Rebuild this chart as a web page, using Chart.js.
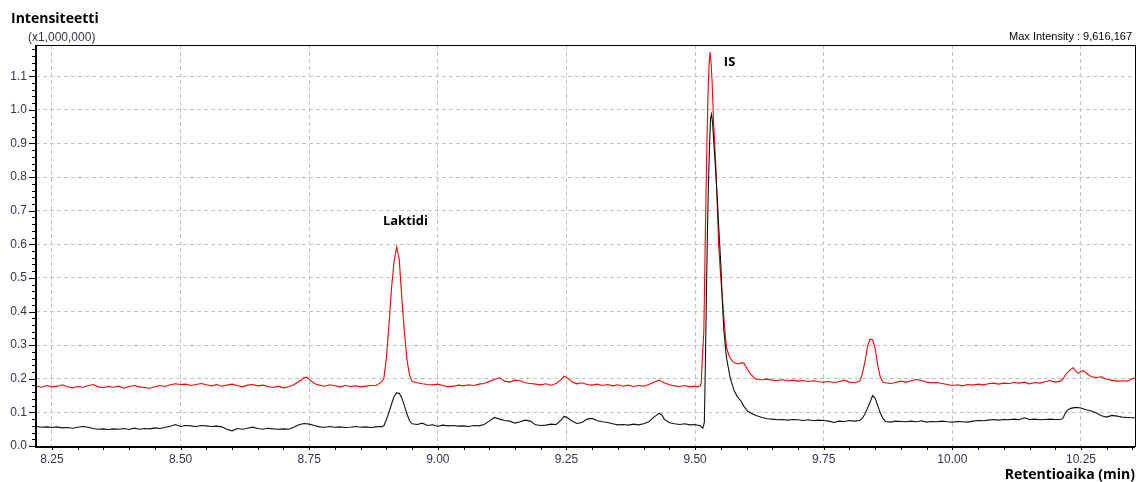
<!DOCTYPE html>
<html>
<head>
<meta charset="utf-8">
<title>Kromatogrammi</title>
<script src="https://cdn.jsdelivr.net/npm/chart.js@4.4.1/dist/chart.umd.min.js"></script>
<style>
  html, body { margin: 0; padding: 0; background: #fff; }
  canvas { display: block; }
</style>
</head>
<body>
<canvas id="chromatogram" width="1137" height="482"></canvas>
<script>
// Retention time (min), intensity (x1,000,000)
const blackTrace = [
  [8.22, 0.058], [8.23, 0.056], [8.24, 0.057], [8.25, 0.055], [8.26, 0.057], [8.27, 0.054], [8.28, 0.055], [8.29, 0.053],
  [8.30, 0.056], [8.31, 0.058], [8.32, 0.056], [8.33, 0.052], [8.34, 0.050], [8.35, 0.051], [8.36, 0.049], [8.37, 0.051],
  [8.38, 0.050], [8.39, 0.052], [8.40, 0.049], [8.41, 0.053], [8.42, 0.050], [8.43, 0.052], [8.44, 0.051], [8.45, 0.054],
  [8.46, 0.052], [8.47, 0.056], [8.48, 0.059], [8.49, 0.064], [8.50, 0.058], [8.51, 0.061], [8.52, 0.060], [8.53, 0.058],
  [8.54, 0.061], [8.55, 0.060], [8.56, 0.058], [8.57, 0.059], [8.58, 0.057], [8.59, 0.050], [8.60, 0.045], [8.61, 0.052],
  [8.62, 0.050], [8.63, 0.053], [8.64, 0.056], [8.65, 0.052], [8.66, 0.050], [8.67, 0.053], [8.68, 0.051], [8.69, 0.050],
  [8.70, 0.051], [8.71, 0.050], [8.72, 0.056], [8.73, 0.063], [8.74, 0.067], [8.75, 0.065], [8.76, 0.061], [8.77, 0.057],
  [8.78, 0.056], [8.79, 0.058], [8.80, 0.056], [8.81, 0.057], [8.82, 0.055], [8.83, 0.056], [8.84, 0.058], [8.85, 0.056],
  [8.86, 0.057], [8.87, 0.055], [8.88, 0.057], [8.885, 0.058], [8.89, 0.057], [8.895, 0.060], [8.90, 0.078], [8.905, 0.100],
  [8.91, 0.125], [8.915, 0.148], [8.92, 0.158], [8.925, 0.157], [8.93, 0.143], [8.935, 0.120], [8.94, 0.095], [8.945, 0.075],
  [8.95, 0.066], [8.96, 0.064], [8.97, 0.068], [8.98, 0.061], [8.99, 0.063], [9.00, 0.059], [9.01, 0.062], [9.02, 0.060],
  [9.03, 0.061], [9.04, 0.059], [9.05, 0.060], [9.06, 0.058], [9.07, 0.061], [9.08, 0.060], [9.09, 0.064], [9.10, 0.074],
  [9.11, 0.085], [9.12, 0.080], [9.13, 0.076], [9.14, 0.074], [9.15, 0.068], [9.16, 0.072], [9.17, 0.077], [9.18, 0.074],
  [9.19, 0.063], [9.20, 0.061], [9.21, 0.062], [9.22, 0.065], [9.23, 0.064], [9.24, 0.078], [9.245, 0.088], [9.25, 0.086],
  [9.26, 0.075], [9.27, 0.067], [9.28, 0.070], [9.29, 0.080], [9.30, 0.082], [9.31, 0.075], [9.32, 0.072], [9.33, 0.070],
  [9.34, 0.066], [9.35, 0.063], [9.36, 0.064], [9.37, 0.062], [9.38, 0.065], [9.39, 0.063], [9.40, 0.066], [9.41, 0.072],
  [9.42, 0.086], [9.43, 0.097], [9.435, 0.094], [9.44, 0.080], [9.45, 0.069], [9.46, 0.066], [9.47, 0.064], [9.48, 0.066],
  [9.49, 0.063], [9.50, 0.064], [9.505, 0.062], [9.51, 0.060], [9.515, 0.053], [9.518, 0.070], [9.520, 0.244], [9.522, 0.450],
  [9.524, 0.640], [9.526, 0.780], [9.528, 0.889], [9.530, 0.975], [9.532, 0.987], [9.534, 0.960], [9.537, 0.889], [9.540, 0.820],
  [9.543, 0.740], [9.546, 0.650], [9.550, 0.540], [9.553, 0.430], [9.556, 0.343], [9.561, 0.263], [9.568, 0.204], [9.576, 0.164],
  [9.582, 0.147], [9.589, 0.134], [9.595, 0.118], [9.602, 0.104], [9.608, 0.098], [9.614, 0.094], [9.62, 0.090], [9.63, 0.085],
  [9.64, 0.081], [9.65, 0.080], [9.66, 0.078], [9.67, 0.079], [9.68, 0.077], [9.69, 0.079], [9.70, 0.078], [9.71, 0.076],
  [9.72, 0.078], [9.73, 0.075], [9.74, 0.077], [9.75, 0.076], [9.76, 0.074], [9.77, 0.070], [9.78, 0.074], [9.79, 0.073],
  [9.80, 0.076], [9.81, 0.074], [9.82, 0.076], [9.825, 0.082], [9.83, 0.095], [9.835, 0.112], [9.84, 0.130], [9.845, 0.150],
  [9.85, 0.142], [9.855, 0.120], [9.86, 0.098], [9.865, 0.082], [9.87, 0.073], [9.88, 0.071], [9.89, 0.074], [9.90, 0.073],
  [9.91, 0.072], [9.92, 0.074], [9.93, 0.072], [9.94, 0.075], [9.95, 0.071], [9.96, 0.073], [9.97, 0.072], [9.98, 0.074],
  [9.99, 0.072], [10.00, 0.071], [10.01, 0.073], [10.02, 0.072], [10.03, 0.071], [10.04, 0.074], [10.05, 0.076], [10.06, 0.075],
  [10.07, 0.077], [10.08, 0.079], [10.09, 0.077], [10.10, 0.079], [10.11, 0.078], [10.12, 0.080], [10.13, 0.078], [10.14, 0.084],
  [10.15, 0.079], [10.16, 0.080], [10.17, 0.078], [10.18, 0.079], [10.19, 0.080], [10.20, 0.079], [10.21, 0.079], [10.215, 0.082],
  [10.22, 0.100], [10.225, 0.108], [10.23, 0.112], [10.24, 0.115], [10.25, 0.113], [10.26, 0.108], [10.27, 0.104], [10.28, 0.098],
  [10.29, 0.090], [10.30, 0.086], [10.31, 0.091], [10.32, 0.089], [10.33, 0.086], [10.34, 0.085], [10.35, 0.084], [10.356, 0.084]
];

const redTrace = [
  [8.22, 0.178], [8.23, 0.175], [8.24, 0.180], [8.25, 0.176], [8.26, 0.178], [8.27, 0.182], [8.28, 0.176], [8.29, 0.173],
  [8.30, 0.177], [8.31, 0.175], [8.32, 0.179], [8.33, 0.183], [8.34, 0.176], [8.35, 0.174], [8.36, 0.177], [8.37, 0.175],
  [8.38, 0.178], [8.39, 0.172], [8.40, 0.177], [8.41, 0.180], [8.42, 0.176], [8.43, 0.174], [8.44, 0.172], [8.45, 0.176],
  [8.46, 0.180], [8.47, 0.177], [8.48, 0.182], [8.49, 0.185], [8.50, 0.183], [8.51, 0.184], [8.52, 0.180], [8.53, 0.183],
  [8.54, 0.186], [8.55, 0.182], [8.56, 0.179], [8.57, 0.183], [8.58, 0.178], [8.59, 0.181], [8.60, 0.184], [8.61, 0.180],
  [8.62, 0.176], [8.63, 0.181], [8.64, 0.183], [8.65, 0.179], [8.66, 0.181], [8.67, 0.177], [8.68, 0.174], [8.69, 0.178],
  [8.70, 0.173], [8.71, 0.176], [8.72, 0.182], [8.73, 0.192], [8.74, 0.203], [8.745, 0.205], [8.75, 0.198], [8.76, 0.186],
  [8.77, 0.181], [8.78, 0.178], [8.79, 0.182], [8.80, 0.179], [8.81, 0.176], [8.82, 0.180], [8.83, 0.177], [8.84, 0.179],
  [8.85, 0.176], [8.86, 0.178], [8.87, 0.180], [8.88, 0.180], [8.89, 0.190], [8.895, 0.200], [8.90, 0.262], [8.905, 0.360],
  [8.91, 0.470], [8.915, 0.550], [8.92, 0.592], [8.925, 0.555], [8.93, 0.440], [8.935, 0.340], [8.94, 0.256], [8.945, 0.210],
  [8.95, 0.192], [8.96, 0.188], [8.97, 0.185], [8.98, 0.183], [8.99, 0.182], [9.00, 0.184], [9.01, 0.180], [9.02, 0.176],
  [9.03, 0.178], [9.04, 0.181], [9.05, 0.179], [9.06, 0.182], [9.07, 0.180], [9.08, 0.184], [9.09, 0.186], [9.10, 0.192],
  [9.11, 0.198], [9.12, 0.203], [9.13, 0.193], [9.14, 0.190], [9.15, 0.196], [9.16, 0.194], [9.17, 0.188], [9.18, 0.186],
  [9.19, 0.184], [9.20, 0.182], [9.21, 0.185], [9.22, 0.181], [9.23, 0.186], [9.24, 0.198], [9.245, 0.208], [9.25, 0.204],
  [9.26, 0.192], [9.27, 0.185], [9.28, 0.188], [9.29, 0.183], [9.30, 0.181], [9.31, 0.184], [9.32, 0.180], [9.33, 0.183],
  [9.34, 0.179], [9.35, 0.182], [9.36, 0.178], [9.37, 0.181], [9.38, 0.177], [9.39, 0.180], [9.40, 0.178], [9.41, 0.183],
  [9.42, 0.190], [9.43, 0.196], [9.44, 0.188], [9.45, 0.182], [9.46, 0.179], [9.47, 0.177], [9.48, 0.180], [9.49, 0.176],
  [9.50, 0.178], [9.505, 0.176], [9.51, 0.179], [9.512, 0.190], [9.514, 0.260], [9.517, 0.340], [9.520, 0.640], [9.523, 0.900],
  [9.525, 1.040], [9.527, 1.130], [9.529, 1.172], [9.531, 1.140], [9.533, 1.088], [9.536, 0.960], [9.540, 0.840], [9.543, 0.720],
  [9.546, 0.590], [9.550, 0.500], [9.553, 0.440], [9.557, 0.360], [9.561, 0.293], [9.566, 0.268], [9.572, 0.253], [9.578, 0.246],
  [9.585, 0.244], [9.590, 0.248], [9.595, 0.246], [9.601, 0.230], [9.608, 0.214], [9.614, 0.204], [9.62, 0.198], [9.63, 0.197],
  [9.64, 0.199], [9.65, 0.196], [9.66, 0.195], [9.67, 0.197], [9.68, 0.194], [9.69, 0.196], [9.70, 0.193], [9.71, 0.195],
  [9.72, 0.192], [9.73, 0.194], [9.74, 0.191], [9.75, 0.190], [9.76, 0.192], [9.77, 0.189], [9.78, 0.191], [9.79, 0.196],
  [9.80, 0.190], [9.81, 0.188], [9.82, 0.193], [9.825, 0.215], [9.83, 0.250], [9.835, 0.295], [9.84, 0.318], [9.845, 0.316],
  [9.85, 0.290], [9.855, 0.240], [9.86, 0.205], [9.865, 0.190], [9.87, 0.188], [9.88, 0.186], [9.89, 0.189], [9.90, 0.193],
  [9.91, 0.190], [9.92, 0.194], [9.93, 0.198], [9.94, 0.195], [9.95, 0.190], [9.96, 0.188], [9.97, 0.189], [9.98, 0.186],
  [9.99, 0.183], [10.00, 0.180], [10.01, 0.182], [10.02, 0.179], [10.03, 0.183], [10.04, 0.181], [10.05, 0.184], [10.06, 0.182],
  [10.07, 0.185], [10.08, 0.187], [10.09, 0.184], [10.10, 0.187], [10.11, 0.186], [10.12, 0.189], [10.13, 0.187], [10.14, 0.190],
  [10.15, 0.185], [10.16, 0.189], [10.17, 0.187], [10.18, 0.191], [10.19, 0.195], [10.20, 0.190], [10.21, 0.193], [10.215, 0.200],
  [10.22, 0.212], [10.23, 0.228], [10.235, 0.233], [10.24, 0.222], [10.245, 0.216], [10.25, 0.222], [10.255, 0.224], [10.26, 0.217],
  [10.27, 0.206], [10.28, 0.204], [10.29, 0.206], [10.30, 0.198], [10.31, 0.196], [10.32, 0.193], [10.33, 0.194], [10.34, 0.193],
  [10.35, 0.200], [10.356, 0.204]
];

// peak names written above the peaks
const peakNames = ['Laktidi', 'IS'];
const peakNameTimes = [8.937, 9.567];
const peakNameLevels = [0.668, 1.142];

const timeRange = [8.219, 10.355];
const intensityRange = [0, 1.193];

const tickFont = { family: '"Liberation Sans", Arial, sans-serif', size: 12 };
const tickColor = '#34344a';

// frame, small tick marks and the text around the plot
const frameAndText = {
  id: 'frameAndText',
  afterDraw(chart) {
    const { ctx, chartArea: a, scales: { x, y } } = chart;
    ctx.save();

    // tick marks on the y axis: minor every 0.02, major every 0.1
    ctx.strokeStyle = '#000';
    ctx.lineWidth = 1;
    ctx.beginPath();
    for (let k = 0; k * 0.02 <= y.max + 1e-9; k++) {
      const py = Math.round(y.getPixelForValue(k * 0.02)) + 0.5;
      const len = k % 5 === 0 ? 7 : 4;
      ctx.moveTo(a.left - len, py);
      ctx.lineTo(a.left, py);
    }
    // tick marks on the x axis: every 0.05 min
    for (let k = Math.ceil(x.min / 0.05); k * 0.05 <= x.max; k++) {
      const px = Math.round(x.getPixelForValue(k * 0.05)) + 0.5;
      ctx.moveTo(px, a.bottom);
      ctx.lineTo(px, a.bottom + 4);
    }
    ctx.stroke();

    // plot frame
    ctx.strokeRect(Math.round(a.left) + 0.5, Math.round(a.top) + 0.5,
      Math.round(a.right - a.left), Math.round(a.bottom - a.top));
    ctx.lineWidth = 2;
    ctx.beginPath();
    ctx.moveTo(Math.round(a.left), a.top);
    ctx.lineTo(Math.round(a.left), Math.round(a.bottom) + 1);
    ctx.lineTo(a.right, Math.round(a.bottom) + 1);
    ctx.stroke();

    // titles
    ctx.fillStyle = '#000';
    ctx.textBaseline = 'alphabetic';
    ctx.textAlign = 'left';
    ctx.font = 'bold 14px "Open Sans", sans-serif';
    ctx.fillText('Intensiteetti', 11, 23);

    ctx.font = '12px "Liberation Sans", Arial, sans-serif';
    ctx.fillStyle = tickColor;
    ctx.textBaseline = 'middle';
    ctx.fillText('(x1,000,000)', 28, 38);
    ctx.textAlign = 'right';
    ctx.fillStyle = '#000';
    ctx.font = '11px "Liberation Sans", Arial, sans-serif';
    ctx.fillText('Max Intensity : 9,616,167', 1132, 37);

    ctx.textBaseline = 'alphabetic';
    ctx.font = 'bold 14px "Open Sans", sans-serif';
    ctx.fillText('Retentioaika (min)', 1135, 479);

    // peak names
    ctx.textAlign = 'center';
    ctx.textBaseline = 'middle';
    ctx.font = 'bold 13px "Open Sans", sans-serif';
    peakNames.forEach((name, i) => {
      ctx.fillText(name, x.getPixelForValue(peakNameTimes[i]), y.getPixelForValue(peakNameLevels[i]));
    });

    ctx.restore();
  }
};

const toPoints = trace => trace.map(([t, v]) => ({ x: t, y: v }));

new Chart(document.getElementById('chromatogram'), {
  type: 'line',
  data: {
    datasets: [
      {
        // first dataset is drawn on top
        data: toPoints(blackTrace),
        borderColor: '#111111',
        borderWidth: 1.1,
        pointRadius: 0,
        tension: 0
      },
      {
        data: toPoints(redTrace),
        borderColor: '#ff0000',
        borderWidth: 1.1,
        pointRadius: 0,
        tension: 0
      }
    ]
  },
  options: {
    responsive: false,
    animation: false,
    devicePixelRatio: 1,
    layout: { padding: { top: 45, right: 2, left: 0, bottom: 0 } },
    plugins: {
      legend: { display: false },
      tooltip: { enabled: false }
    },
    scales: {
      x: {
        type: 'linear',
        min: timeRange[0],
        max: timeRange[1],
        afterFit: scale => { scale.height = 36; },
        ticks: {
          stepSize: 0.25,
          includeBounds: false,
          autoSkip: false,
          maxRotation: 0,
          padding: 6,
          color: tickColor,
          font: tickFont,
          callback: v => v.toFixed(2)
        },
        grid: { color: '#c4c4c4', lineWidth: 1, drawTicks: false },
        border: { display: false, dash: [4, 3] }
      },
      y: {
        type: 'linear',
        min: intensityRange[0],
        max: intensityRange[1],
        afterFit: scale => { scale.width = 36; },
        ticks: {
          stepSize: 0.1,
          includeBounds: false,
          padding: 9,
          color: tickColor,
          font: tickFont,
          callback: v => v.toFixed(1)
        },
        grid: { color: '#c4c4c4', lineWidth: 1, drawTicks: false },
        border: { display: false, dash: [4, 3] }
      }
    }
  },
  plugins: [frameAndText]
});
</script>
</body>
</html>
